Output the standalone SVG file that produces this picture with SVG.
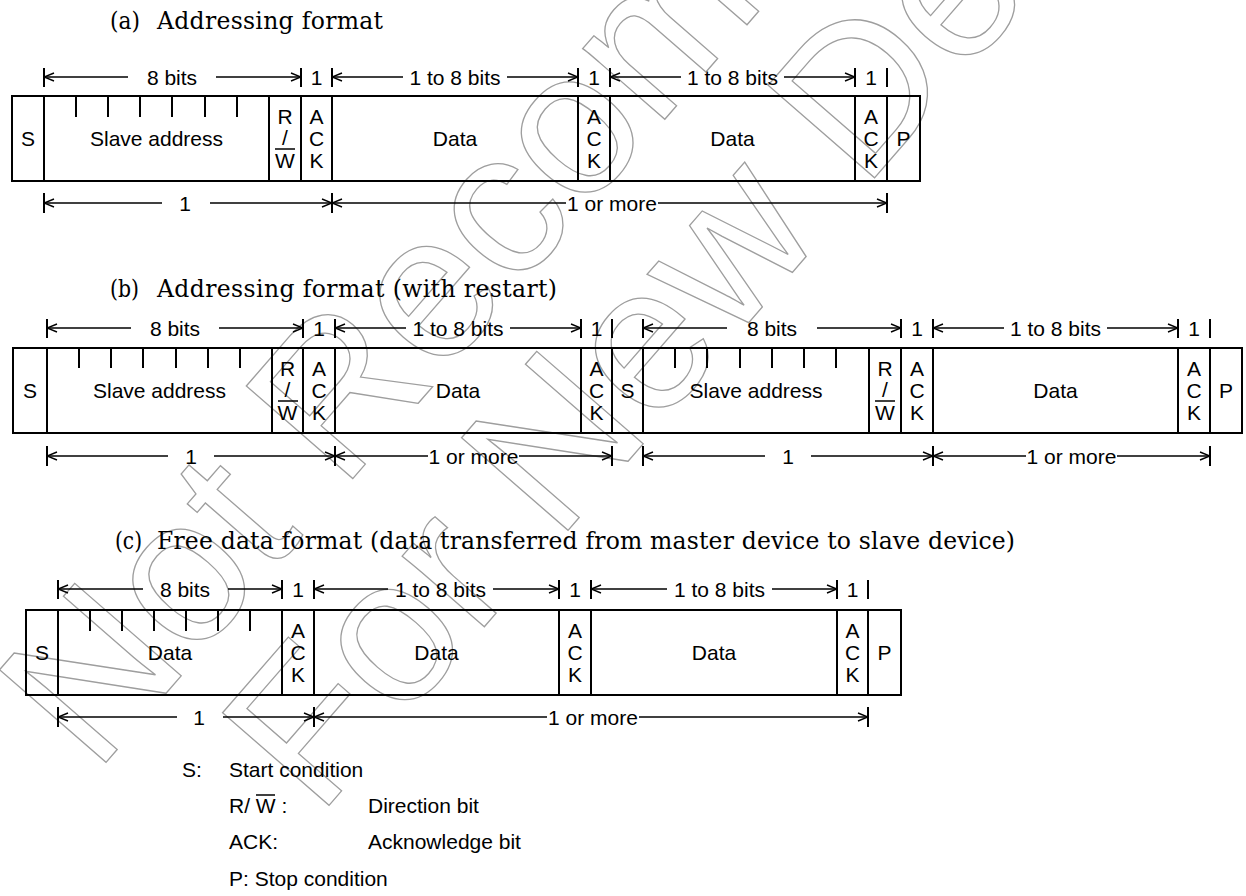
<svg xmlns="http://www.w3.org/2000/svg" width="1246" height="896" viewBox="0 0 1246 896">
<style>
.bg{fill:#fff}
.f{fill:none;stroke:#000;stroke-width:2}
.tk{stroke:#000;stroke-width:2}
.dim{stroke:#000;stroke-width:1.5;fill:none}
.t{font-family:"Liberation Sans",Arial,sans-serif;font-size:21px;fill:#000}
.c{text-anchor:middle}
.ttl{font-family:"DejaVu Serif","Liberation Serif",serif;font-size:23.5px;fill:#000}
.wm{font-family:"Liberation Sans",Arial,sans-serif;font-size:205px;fill:none;stroke:#9e9e9e;stroke-width:1.3}
</style>
<defs>
<marker id="ah" viewBox="-12 -6 13 12" refX="0" refY="0" markerWidth="13" markerHeight="12" markerUnits="userSpaceOnUse" orient="auto-start-reverse">
<path d="M-10,-4 L0,0 L-10,4" fill="none" stroke="#000" stroke-width="1.4"/>
</marker>
</defs>
<rect class="bg" x="0" y="0" width="1246" height="896"/>

<g id="watermark">
<text class="wm" transform="translate(95,775) rotate(-49)">Not Recommended</text>
<text class="wm" transform="translate(318,818) rotate(-49)">For New Design</text>
</g>

<g id="titles">
<text class="ttl" x="110" y="29" textLength="30" lengthAdjust="spacingAndGlyphs">(a)</text>
<text class="ttl" x="157" y="29" textLength="226" lengthAdjust="spacing">Addressing format</text>
<text class="ttl" x="110" y="297" textLength="29" lengthAdjust="spacingAndGlyphs">(b)</text>
<text class="ttl" x="157" y="297" textLength="400" lengthAdjust="spacing">Addressing format (with restart)</text>
<text class="ttl" x="115" y="549" textLength="27" lengthAdjust="spacingAndGlyphs">(c)</text>
<text class="ttl" x="157" y="549" textLength="858" lengthAdjust="spacing">Free data format (data transferred from master device to slave device)</text>
</g>

<!-- Format (a) -->
<g id="fmt-a">
<g id="a-s"><rect class="f" x="12" y="96" width="32" height="85"/><text class="t c" x="28" y="146">S</text></g>
<g id="a-addr"><rect class="f" x="44" y="96" width="225" height="85"/>
<path class="tk" d="M76,96V117M108,96V117M140,96V117M172,96V117M205,96V117M237,96V117"/>
<text class="t c" x="156.5" y="146">Slave address</text></g>
<g id="a-rw"><rect class="f" x="269" y="96" width="32" height="85"/>
<text class="t c" x="285" y="124">R</text><text class="t c" x="285" y="145">/</text><text class="t c" x="285" y="168">W</text>
<line class="dim" x1="275" y1="149" x2="295" y2="149"/></g>
<g id="a-ack1"><rect class="f" x="301" y="96" width="31" height="85"/>
<text class="t c" x="316.5" y="124">A</text><text class="t c" x="316.5" y="146">C</text><text class="t c" x="316.5" y="168">K</text></g>
<g id="a-data1"><rect class="f" x="332" y="96" width="246" height="85"/><text class="t c" x="455" y="146">Data</text></g>
<g id="a-ack2"><rect class="f" x="578" y="96" width="32" height="85"/>
<text class="t c" x="594" y="124">A</text><text class="t c" x="594" y="146">C</text><text class="t c" x="594" y="168">K</text></g>
<g id="a-data2"><rect class="f" x="610" y="96" width="245" height="85"/><text class="t c" x="732.5" y="146">Data</text></g>
<g id="a-ack3"><rect class="f" x="855" y="96" width="32" height="85"/>
<text class="t c" x="871" y="124">A</text><text class="t c" x="871" y="146">C</text><text class="t c" x="871" y="168">K</text></g>
<g id="a-p"><rect class="f" x="887" y="96" width="33" height="85"/><text class="t c" x="903.5" y="146">P</text></g>
</g>

<!-- Format (b) -->
<g id="fmt-b">
<g id="b-s1"><rect class="f" x="13" y="348" width="34" height="85"/><text class="t c" x="30" y="398">S</text></g>
<g id="b-addr1"><rect class="f" x="47" y="348" width="225" height="85"/>
<path class="tk" d="M79,348V368M111,348V368M143,348V368M176,348V368M208,348V368M240,348V368"/>
<text class="t c" x="159.5" y="398">Slave address</text></g>
<g id="b-rw1"><rect class="f" x="272" y="348" width="31" height="85"/>
<text class="t c" x="287.5" y="376">R</text><text class="t c" x="287.5" y="397">/</text><text class="t c" x="287.5" y="420">W</text>
<line class="dim" x1="278" y1="401" x2="298" y2="401"/></g>
<g id="b-ack1"><rect class="f" x="303" y="348" width="32" height="85"/>
<text class="t c" x="319" y="376">A</text><text class="t c" x="319" y="398">C</text><text class="t c" x="319" y="420">K</text></g>
<g id="b-data1"><rect class="f" x="335" y="348" width="246" height="85"/><text class="t c" x="458" y="398">Data</text></g>
<g id="b-ack2"><rect class="f" x="581" y="348" width="31" height="85"/>
<text class="t c" x="596.5" y="376">A</text><text class="t c" x="596.5" y="398">C</text><text class="t c" x="596.5" y="420">K</text></g>
<g id="b-s2"><rect class="f" x="612" y="348" width="31" height="85"/><text class="t c" x="627.5" y="398">S</text></g>
<g id="b-addr2"><rect class="f" x="643" y="348" width="226" height="85"/>
<path class="tk" d="M675,348V368M707,348V368M740,348V368M772,348V368M804,348V368M836,348V368"/>
<text class="t c" x="756" y="398">Slave address</text></g>
<g id="b-rw2"><rect class="f" x="869" y="348" width="32" height="85"/>
<text class="t c" x="885" y="376">R</text><text class="t c" x="885" y="397">/</text><text class="t c" x="885" y="420">W</text>
<line class="dim" x1="875" y1="401" x2="895" y2="401"/></g>
<g id="b-ack3"><rect class="f" x="901" y="348" width="32" height="85"/>
<text class="t c" x="917" y="376">A</text><text class="t c" x="917" y="398">C</text><text class="t c" x="917" y="420">K</text></g>
<g id="b-data2"><rect class="f" x="933" y="348" width="245" height="85"/><text class="t c" x="1055.5" y="398">Data</text></g>
<g id="b-ack4"><rect class="f" x="1178" y="348" width="32" height="85"/>
<text class="t c" x="1194" y="376">A</text><text class="t c" x="1194" y="398">C</text><text class="t c" x="1194" y="420">K</text></g>
<g id="b-p"><rect class="f" x="1210" y="348" width="32" height="85"/><text class="t c" x="1226" y="398">P</text></g>
</g>

<!-- Format (c) -->
<g id="fmt-c">
<g id="c-s"><rect class="f" x="26" y="610" width="32" height="85"/><text class="t c" x="42" y="660">S</text></g>
<g id="c-data1"><rect class="f" x="58" y="610" width="224" height="85"/>
<path class="tk" d="M90,610V631M122,610V631M154,610V631M186,610V631M218,610V631M250,610V631"/>
<text class="t c" x="170" y="660">Data</text></g>
<g id="c-ack1"><rect class="f" x="282" y="610" width="32" height="85"/>
<text class="t c" x="298" y="638">A</text><text class="t c" x="298" y="660">C</text><text class="t c" x="298" y="682">K</text></g>
<g id="c-data2"><rect class="f" x="314" y="610" width="245" height="85"/><text class="t c" x="436.5" y="660">Data</text></g>
<g id="c-ack2"><rect class="f" x="559" y="610" width="32" height="85"/>
<text class="t c" x="575" y="638">A</text><text class="t c" x="575" y="660">C</text><text class="t c" x="575" y="682">K</text></g>
<g id="c-data3"><rect class="f" x="591" y="610" width="246" height="85"/><text class="t c" x="714" y="660">Data</text></g>
<g id="c-ack3"><rect class="f" x="837" y="610" width="31" height="85"/>
<text class="t c" x="852.5" y="638">A</text><text class="t c" x="852.5" y="660">C</text><text class="t c" x="852.5" y="682">K</text></g>
<g id="c-p"><rect class="f" x="868" y="610" width="33" height="85"/><text class="t c" x="884.5" y="660">P</text></g>
</g>

<!-- Dimension connectors -->
<g id="connectors">
<!-- (a) top -->
<path class="tk" d="M44,68V87M301,68V87M332,68V87M578,68V87M610,68V87M855,68V87M887,68V87"/>
<line class="dim" x1="44" y1="77" x2="128" y2="77" marker-start="url(#ah)"/>
<line class="dim" x1="216" y1="77" x2="301" y2="77" marker-end="url(#ah)"/>
<line class="dim" x1="332" y1="77" x2="403" y2="77" marker-start="url(#ah)"/>
<line class="dim" x1="507" y1="77" x2="578" y2="77" marker-end="url(#ah)"/>
<line class="dim" x1="610" y1="77" x2="681" y2="77" marker-start="url(#ah)"/>
<line class="dim" x1="784" y1="77" x2="855" y2="77" marker-end="url(#ah)"/>
<text class="t c" x="172" y="84.5">8 bits</text>
<text class="t c" x="316.5" y="84.5">1</text>
<text class="t c" x="455" y="84.5">1 to 8 bits</text>
<text class="t c" x="594" y="84.5">1</text>
<text class="t c" x="732.5" y="84.5">1 to 8 bits</text>
<text class="t c" x="871" y="84.5">1</text>
<!-- (a) bottom -->
<path class="tk" d="M44,193V213M332,193V213M887,193V213"/>
<line class="dim" x1="44" y1="203" x2="162" y2="203" marker-start="url(#ah)"/>
<line class="dim" x1="210" y1="203" x2="332" y2="203" marker-end="url(#ah)"/>
<line class="dim" x1="332" y1="203" x2="566" y2="203" marker-start="url(#ah)"/>
<line class="dim" x1="658" y1="203" x2="887" y2="203" marker-end="url(#ah)"/>
<text class="t c" x="185" y="210.5">1</text>
<text class="t c" x="612" y="210.5">1 or more</text>

<!-- (b) top -->
<path class="tk" d="M47,319V338M303,319V338M335,319V338M581,319V338M612,319V338M643,319V338M901,319V338M933,319V338M1178,319V338M1210,319V338"/>
<line class="dim" x1="47" y1="328" x2="131" y2="328" marker-start="url(#ah)"/>
<line class="dim" x1="219" y1="328" x2="303" y2="328" marker-end="url(#ah)"/>
<line class="dim" x1="335" y1="328" x2="406" y2="328" marker-start="url(#ah)"/>
<line class="dim" x1="510" y1="328" x2="581" y2="328" marker-end="url(#ah)"/>
<line class="dim" x1="643" y1="328" x2="727" y2="328" marker-start="url(#ah)"/>
<line class="dim" x1="817" y1="328" x2="901" y2="328" marker-end="url(#ah)"/>
<line class="dim" x1="933" y1="328" x2="1004" y2="328" marker-start="url(#ah)"/>
<line class="dim" x1="1107" y1="328" x2="1178" y2="328" marker-end="url(#ah)"/>
<text class="t c" x="175" y="335.5">8 bits</text>
<text class="t c" x="319" y="335.5">1</text>
<text class="t c" x="458" y="335.5">1 to 8 bits</text>
<text class="t c" x="596.5" y="335.5">1</text>
<text class="t c" x="772" y="335.5">8 bits</text>
<text class="t c" x="917" y="335.5">1</text>
<text class="t c" x="1055.5" y="335.5">1 to 8 bits</text>
<text class="t c" x="1194" y="335.5">1</text>
<!-- (b) bottom -->
<path class="tk" d="M47,446V466M335,446V466M612,446V466M643,446V466M933,446V466M1210,446V466"/>
<line class="dim" x1="47" y1="456" x2="168" y2="456" marker-start="url(#ah)"/>
<line class="dim" x1="214" y1="456" x2="335" y2="456" marker-end="url(#ah)"/>
<line class="dim" x1="335" y1="456" x2="428" y2="456" marker-start="url(#ah)"/>
<line class="dim" x1="519" y1="456" x2="612" y2="456" marker-end="url(#ah)"/>
<line class="dim" x1="643" y1="456" x2="765" y2="456" marker-start="url(#ah)"/>
<line class="dim" x1="811" y1="456" x2="933" y2="456" marker-end="url(#ah)"/>
<line class="dim" x1="933" y1="456" x2="1026" y2="456" marker-start="url(#ah)"/>
<line class="dim" x1="1117" y1="456" x2="1210" y2="456" marker-end="url(#ah)"/>
<text class="t c" x="191" y="463.5">1</text>
<text class="t c" x="473.5" y="463.5">1 or more</text>
<text class="t c" x="788" y="463.5">1</text>
<text class="t c" x="1071.5" y="463.5">1 or more</text>

<!-- (c) top -->
<path class="tk" d="M58,580V599M282,580V599M314,580V599M559,580V599M591,580V599M837,580V599M868,580V599"/>
<line class="dim" x1="58" y1="589" x2="143" y2="589" marker-start="url(#ah)"/>
<line class="dim" x1="228" y1="589" x2="282" y2="589" marker-end="url(#ah)"/>
<line class="dim" x1="314" y1="589" x2="388" y2="589" marker-start="url(#ah)"/>
<line class="dim" x1="493" y1="589" x2="559" y2="589" marker-end="url(#ah)"/>
<line class="dim" x1="591" y1="589" x2="667" y2="589" marker-start="url(#ah)"/>
<line class="dim" x1="772" y1="589" x2="837" y2="589" marker-end="url(#ah)"/>
<text class="t c" x="185" y="596.5">8 bits</text>
<text class="t c" x="298" y="596.5">1</text>
<text class="t c" x="440.5" y="596.5">1 to 8 bits</text>
<text class="t c" x="575" y="596.5">1</text>
<text class="t c" x="719.5" y="596.5">1 to 8 bits</text>
<text class="t c" x="852.5" y="596.5">1</text>
<!-- (c) bottom -->
<path class="tk" d="M58,707V727M314,707V727M868,707V727"/>
<line class="dim" x1="58" y1="717" x2="177" y2="717" marker-start="url(#ah)"/>
<line class="dim" x1="223" y1="717" x2="314" y2="717" marker-end="url(#ah)"/>
<line class="dim" x1="314" y1="717" x2="547" y2="717" marker-start="url(#ah)"/>
<line class="dim" x1="639" y1="717" x2="868" y2="717" marker-end="url(#ah)"/>
<text class="t c" x="199" y="724.5">1</text>
<text class="t c" x="593" y="724.5">1 or more</text>
</g>

<g id="legend">
<text class="t" x="182" y="777">S:</text>
<text class="t" x="229" y="777">Start condition</text>
<text class="t" x="229" y="813">R/ W :</text>
<line class="dim" x1="256" y1="795" x2="275" y2="795"/>
<text class="t" x="368" y="813">Direction bit</text>
<text class="t" x="229" y="849">ACK:</text>
<text class="t" x="368" y="849">Acknowledge bit</text>
<text class="t" x="229" y="886">P: Stop condition</text>
</g>
</svg>
